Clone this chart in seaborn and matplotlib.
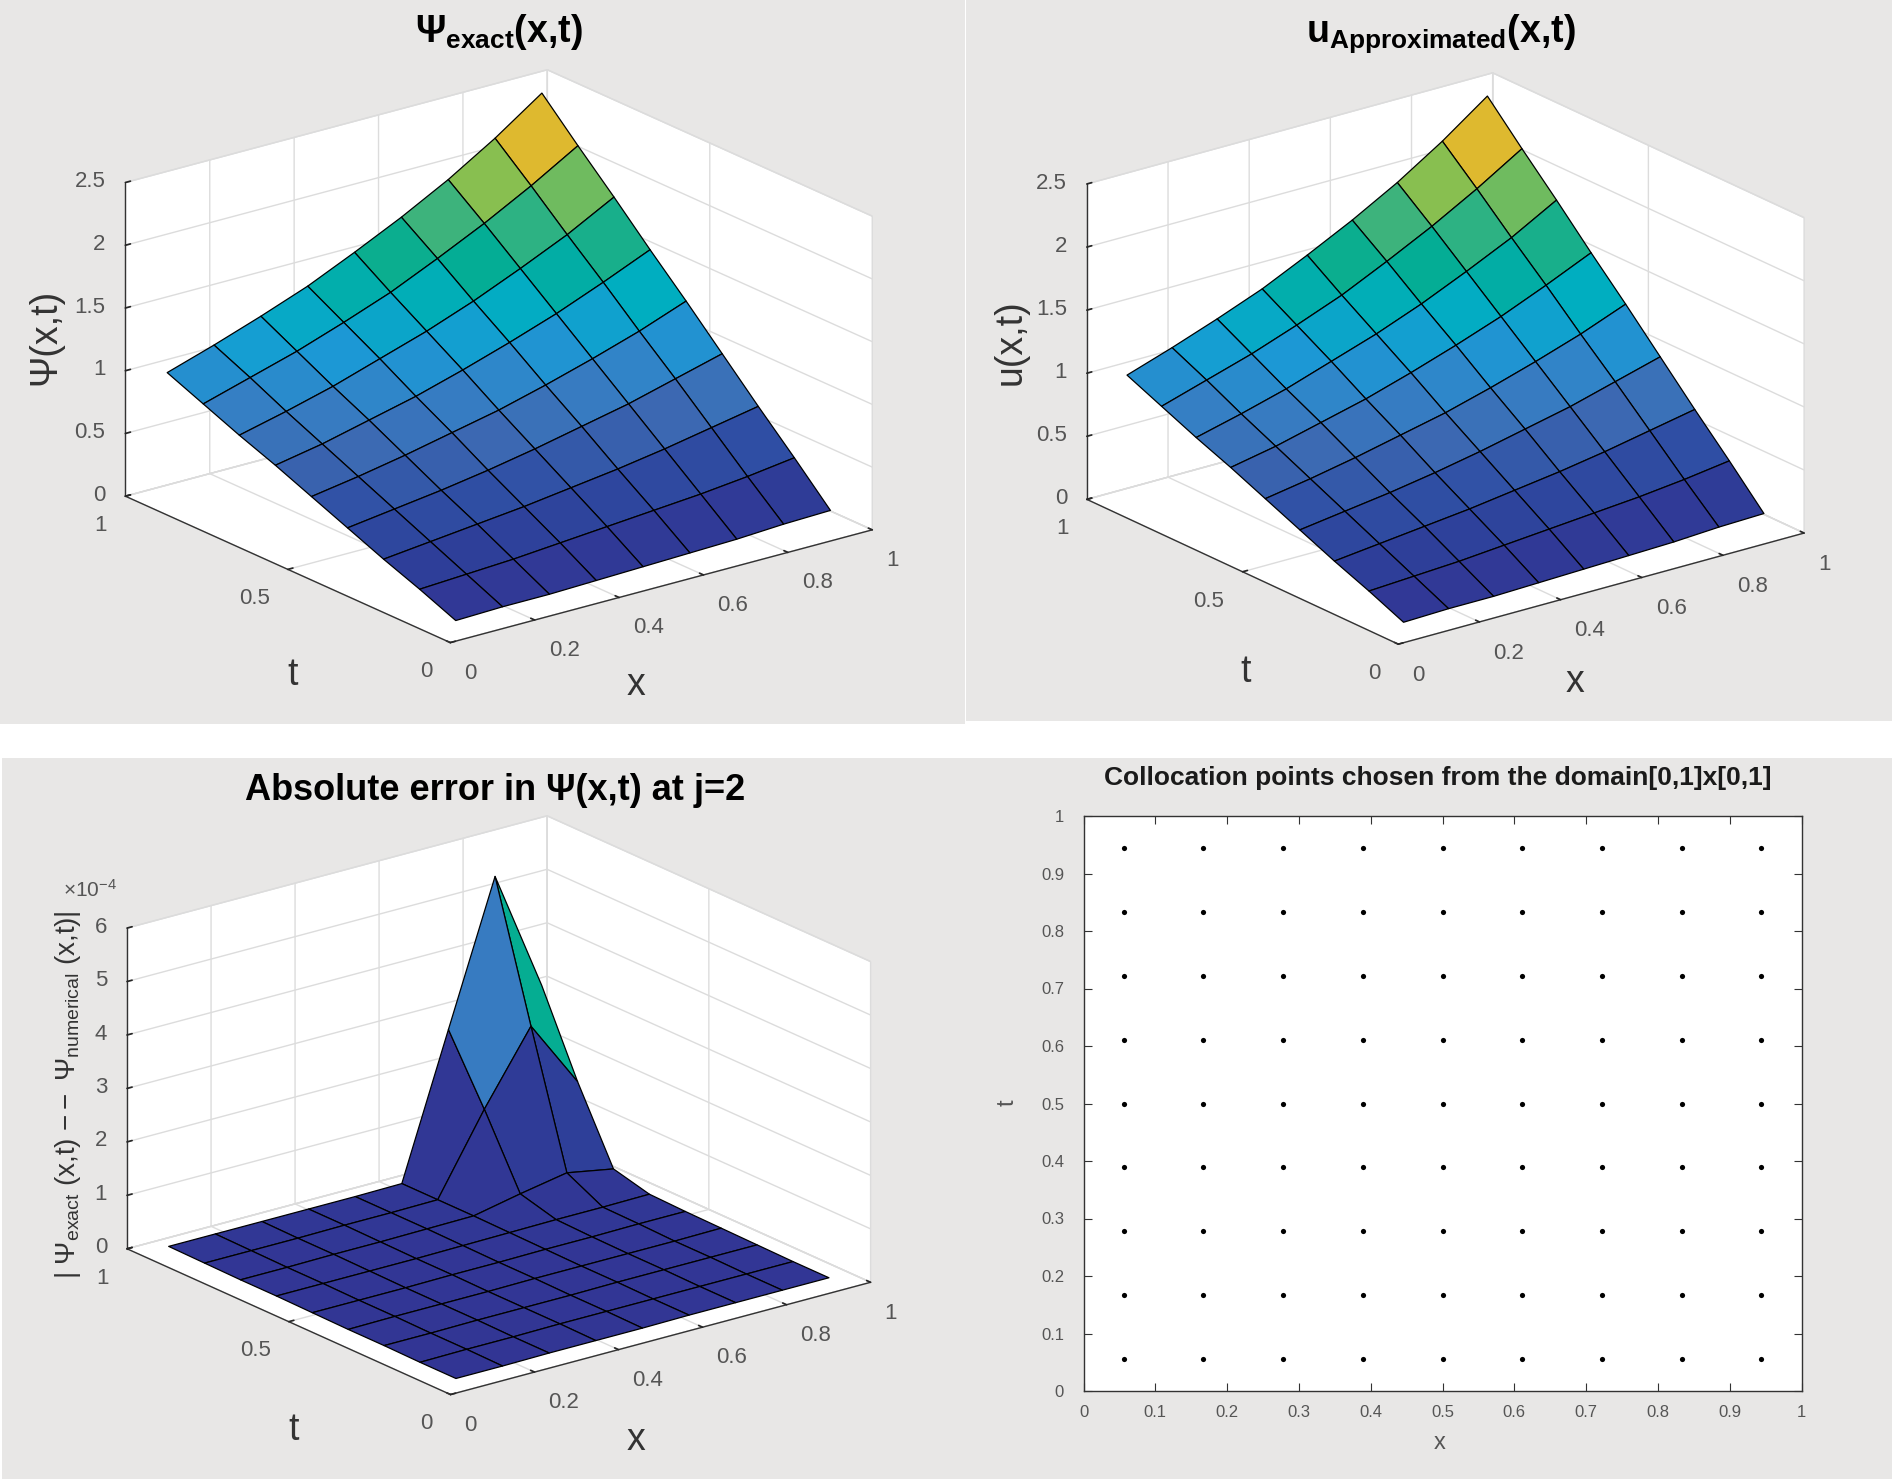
import numpy as np
import matplotlib
matplotlib.use('Agg')
import matplotlib.pyplot as plt
from matplotlib.patches import Rectangle
import seaborn as sns

# grid (collocation points)
x_pts = [0.056, 0.167, 0.278, 0.389, 0.5, 0.611, 0.722, 0.833, 0.944]
t_pts = [0.056, 0.167, 0.278, 0.389, 0.5, 0.611, 0.722, 0.833, 0.944]

# surface heights, one row per t
psi_exact = [
    [0.06, 0.07, 0.07, 0.08, 0.09, 0.10, 0.11, 0.13, 0.14],
    [0.18, 0.20, 0.22, 0.25, 0.28, 0.31, 0.34, 0.38, 0.43],
    [0.29, 0.33, 0.37, 0.41, 0.46, 0.51, 0.57, 0.64, 0.71],
    [0.41, 0.46, 0.51, 0.57, 0.64, 0.72, 0.80, 0.90, 1.00],
    [0.53, 0.59, 0.66, 0.74, 0.82, 0.92, 1.03, 1.15, 1.29],
    [0.65, 0.72, 0.81, 0.90, 1.01, 1.13, 1.26, 1.41, 1.57],
    [0.76, 0.85, 0.95, 1.07, 1.19, 1.33, 1.49, 1.66, 1.86],
    [0.88, 0.99, 1.10, 1.23, 1.37, 1.54, 1.72, 1.92, 2.14],
    [1.00, 1.12, 1.25, 1.39, 1.56, 1.74, 1.94, 2.17, 2.43],
]
# the approximation can't be told apart from the exact one at this scale
u_approx = psi_exact

# absolute error, in units of 1e-4
err_e4 = [
    [0.03, 0.03, 0.04, 0.04, 0.04, 0.05, 0.05, 0.05, 0.05],
    [0.03, 0.04, 0.04, 0.05, 0.05, 0.05, 0.05, 0.05, 0.05],
    [0.04, 0.04, 0.05, 0.05, 0.05, 0.06, 0.06, 0.06, 0.06],
    [0.04, 0.05, 0.05, 0.05, 0.06, 0.06, 0.06, 0.06, 0.07],
    [0.05, 0.05, 0.05, 0.06, 0.06, 0.07, 0.07, 0.08, 0.08],
    [0.06, 0.06, 0.06, 0.06, 0.07, 0.08, 0.09, 0.09, 0.10],
    [0.06, 0.06, 0.07, 0.07, 0.08, 0.09, 0.27, 0.43, 0.27],
    [0.07, 0.07, 0.07, 0.08, 0.08, 0.09, 1.55, 2.87, 1.60],
    [0.08, 0.08, 0.08, 0.08, 0.08, 0.09, 2.74, 5.37, 3.10],
]

# colours as they look in the picture, low to high
surf_colors = ['#323594', '#2E3F99', '#2F4FA4', '#3C69B2', '#3580C5', '#1A9AD6',
               '#00AEC0', '#04AD92', '#3AB37E', '#8ABF4F', '#DEB92F']

W, H = 1892, 1479
GRID = '#dcdcdc'
TICK = '#555555'
PANEL = '#e8e7e6'

sns.set_theme(style='white')
plt.rcParams['font.family'] = ['Liberation Sans', 'DejaVu Sans']
plt.rcParams['mathtext.fontset'] = 'custom'
plt.rcParams['mathtext.rm'] = 'Liberation Sans'
plt.rcParams['mathtext.it'] = 'Liberation Sans'
plt.rcParams['mathtext.bf'] = 'Liberation Sans:bold'

cmap = sns.blend_palette(surf_colors, as_cmap=True)

fig = plt.figure(figsize=(W / 100, H / 100), dpi=100, facecolor='white')

# grey panels behind each plot
for (x0, y0, x1, y1) in [(0, 0, 965, 724), (966, 0, 1892, 721),
                         (2, 758, 965, 1479), (965, 758, 1892, 1479)]:
    fig.add_artist(Rectangle((x0 / W, 1 - y1 / H), (x1 - x0) / W, (y1 - y0) / H,
                             transform=fig.transFigure, fc=PANEL, ec='none', zorder=-5))


def label(px, py, s, size, color='#333333', weight='normal', rotation=0):
    fig.text(px / W, 1 - py / H, s, fontsize=size, color=color, fontweight=weight,
             rotation=rotation, ha='center', va='center')


def surface_panel(cx, cy, size, elev, azim, aspect, Z, vmax, zticks, zlabels, zmax):
    ax = fig.add_axes([(cx - size / 2) / W, 1 - (cy + size / 2) / H, size / W, size / H],
                      projection='3d', proj_type='ortho')
    ax.patch.set_alpha(0)
    ax.view_init(elev=elev, azim=azim)
    ax.set_box_aspect(aspect)

    X, T = np.meshgrid(x_pts, t_pts)
    Z = np.array(Z)
    colors = cmap(np.clip(Z / vmax, 0, 1))
    ax.plot_surface(X, T, Z, facecolors=colors, rstride=1, cstride=1, shade=False,
                    edgecolor='black', linewidth=0.9, antialiased=True)

    ax.set_xlim(0, 1, view_margin=0)
    ax.set_ylim(0, 1, view_margin=0)
    ax.set_zlim(0, zmax, view_margin=0)
    ax.set_xticks([0, 0.2, 0.4, 0.6, 0.8, 1], ['0', '0.2', '0.4', '0.6', '0.8', '1'], ha='left')
    ax.set_yticks([0, 0.5, 1], ['0', '0.5', '1'], ha='right')
    ax.set_zticks(zticks, zlabels, ha='right', va='center')
    ax.tick_params(labelsize=16, labelcolor=TICK)
    ax.tick_params(axis='x', pad=5)
    ax.tick_params(axis='y', pad=5)
    ax.tick_params(axis='z', pad=0)
    ax.zaxis.set_ticks_position('upper')
    ax.zaxis.set_label_position('upper')

    for axis in (ax.xaxis, ax.yaxis, ax.zaxis):
        axis.set_pane_color((1, 1, 1, 1))
        axis.pane.set_edgecolor(GRID)
        axis.line.set_color('#333333')
        axis.line.set_linewidth(1.0)
        axis._axinfo['grid'].update(color=GRID, linewidth=1.0)
        axis._axinfo['tick'].update(inward_factor=0.0, outward_factor=0.15)
        axis._axinfo['tick']['color'] = '#333333'
    return ax


# top left
surface_panel(488, 367, 800, 20.3, -127.6, (1, 1, 0.628), psi_exact, 1.92,
              [0, 0.5, 1, 1.5, 2, 2.5], ['0', '0.5', '1', '1.5', '2', '2.5'], 2.5)
label(499, 32, r'$\mathbf{Ψ_{exact}(x{,}t)}$', 27, 'black')
label(45, 337, 'Ψ(x,t)', 27, rotation=90)
label(293, 675, 't', 27)
label(636, 685, 'x', 27)

# top right
surface_panel(1435, 369, 775, 20.9, -127.5, (1, 1, 0.66), u_approx, 1.92,
              [0, 0.5, 1, 1.5, 2, 2.5], ['0', '0.5', '1', '1.5', '2', '2.5'], 2.5)
label(1441, 34, r'$\mathbf{u_{Approximated}(x{,}t)}$', 27, 'black')
label(1011, 342, 'u(x,t)', 27, rotation=90)
label(1246, 672, 't', 27)
label(1575, 682, 'x', 27)

# bottom left
surface_panel(488, 1116, 800, 20.3, -127.6, (1, 1, 0.645), err_e4, 4.1,
              [0, 1, 2, 3, 4, 5, 6], ['0', '1', '2', '3', '4', '5', '6'], 6)
label(495, 791, 'Absolute error in Ψ(x,t) at j=2', 26, 'black', weight='bold')
label(68, 1095, r'$|\ Ψ_{exact}\ (x{,}t)\ \mathrm{--}\ Ψ_{numerical}\ (x{,}t)|$', 20, rotation=90)
label(90, 890, r'$\times 10^{-4}$', 15, TICK)
label(294, 1430, 't', 27)
label(636, 1440, 'x', 27)

# bottom right: collocation points
ax4 = fig.add_axes([1083.5 / W, 1 - 1391 / H, 718 / W, 575 / H], facecolor='white')
grid_x, grid_t = np.meshgrid(x_pts, t_pts)
sns.scatterplot(x=grid_x.ravel(), y=grid_t.ravel(), color='black', s=14, linewidth=0, ax=ax4)
ax4.set_xlim(0, 1)
ax4.set_ylim(0, 1)
ticks = np.arange(0, 11) / 10
tick_text = ['0', '0.1', '0.2', '0.3', '0.4', '0.5', '0.6', '0.7', '0.8', '0.9', '1']
ax4.set_xticks(ticks, tick_text)
ax4.set_yticks(ticks, tick_text)
ax4.tick_params(direction='in', length=6, width=0.8, top=True, right=True, bottom=True,
                left=True, labelsize=12, labelcolor=TICK, color='#333333', pad=10)
ax4.tick_params(axis='y', pad=14)
for s in ax4.spines.values():
    s.set_visible(True)
    s.set_color('#333333')
    s.set_linewidth(1.0)
label(1438, 778, 'Collocation points chosen from the domain[0,1]x[0,1]', 19, '#1a1a1a', weight='bold')
label(1440, 1443, 'x', 17, TICK)
label(1008, 1103, 't', 17, TICK, rotation=90)

fig.savefig('out.png', dpi=100, facecolor='white')
